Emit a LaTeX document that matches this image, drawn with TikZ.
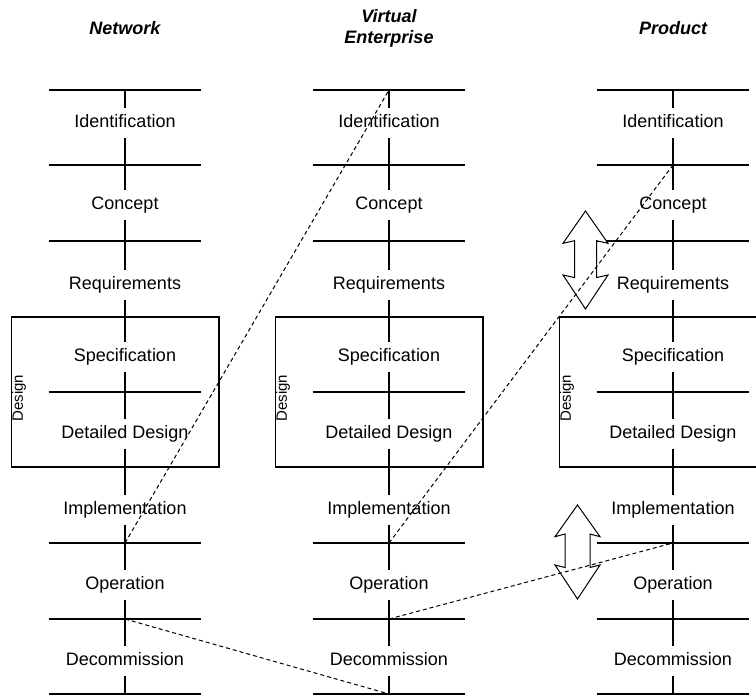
\documentclass[tikz,border=0pt]{standalone}
\usepackage{fontspec}
\setmainfont{Liberation Sans}
\begin{document}
\begin{tikzpicture}[x=1pt,y=-1pt,
  rule/.style={line width=1.1pt},
  frame/.style={draw,line width=1.1pt},
  phase/.style={fill=white,inner xsep=2pt,inner ysep=6.5pt,
    text height=13pt,text depth=4pt,font=\fontsize{18}{21}\selectfont},
  colhead/.style={align=center,font=\fontsize{18}{21}\selectfont\bfseries\itshape},
  sidelabel/.style={rotate=90,inner sep=0pt,font=\fontsize{15}{18}\selectfont},
  link/.style={line width=1pt,dash pattern=on 4pt off 3pt},
  twoway/.style={draw,line width=1pt,fill=white,line join=miter}]

\useasboundingbox (0,0) rectangle (756,696);

% one life-cycle column per entity
\foreach \c/\cx/\head in {N/125/Network,V/389/{Virtual\\Enterprise},P/673/Product}{
  % phase boundaries, with a named crossing point on the axis
  \foreach \y [count=\i] in {90,165,241,317,392,467,543,619,694}{
    \draw[rule] ({\cx-76.5},\y) -- ({\cx+75.5},\y);
    \coordinate (\c-\i) at (\cx,\y);
  }
  % vertical axis
  \draw[rule] (\c-1) -- (\c-9);
  % design group around specification and detailed design
  \draw[frame] ({\cx-113.5},317) rectangle ({\cx+94},467);
  \node[sidelabel] (\c-design) at ({\cx-106},398) {Design};
  % phase names
  \foreach \t/\y [count=\k] in {Identification/123,Concept/205,Requirements/285,
      Specification/357,Detailed Design/434,Implementation/510,Operation/585,
      Decommission/661}{
    \node[phase] (\c-p\k) at (\cx,\y) {\t};
  }
  \node[colhead] (\c-head) at (\cx,28) {\head};
}

% two-way arrows beside the product column
\path[twoway] (585.5,211) -- (608,243.3) -- (596.5,240.7) -- (596.5,277.6)
  -- (608,275) -- (585.5,309) -- (563,275) -- (574.5,277.6) -- (574.5,240.7)
  -- (563,243.3) -- cycle;
\path[twoway] (577.5,505) -- (600,536.7) -- (590,534) -- (590,567.5)
  -- (600,565) -- (577.5,599) -- (555,565) -- (565,567.5) -- (565,534)
  -- (555,536.7) -- cycle;

% links between the life cycles
\draw[link] (N-7) -- (V-1);
\draw[link] (V-7) -- (P-2);
\draw[link] (N-8) -- (V-9);
\draw[link] (V-8) -- (P-7);

\end{tikzpicture}
\end{document}
